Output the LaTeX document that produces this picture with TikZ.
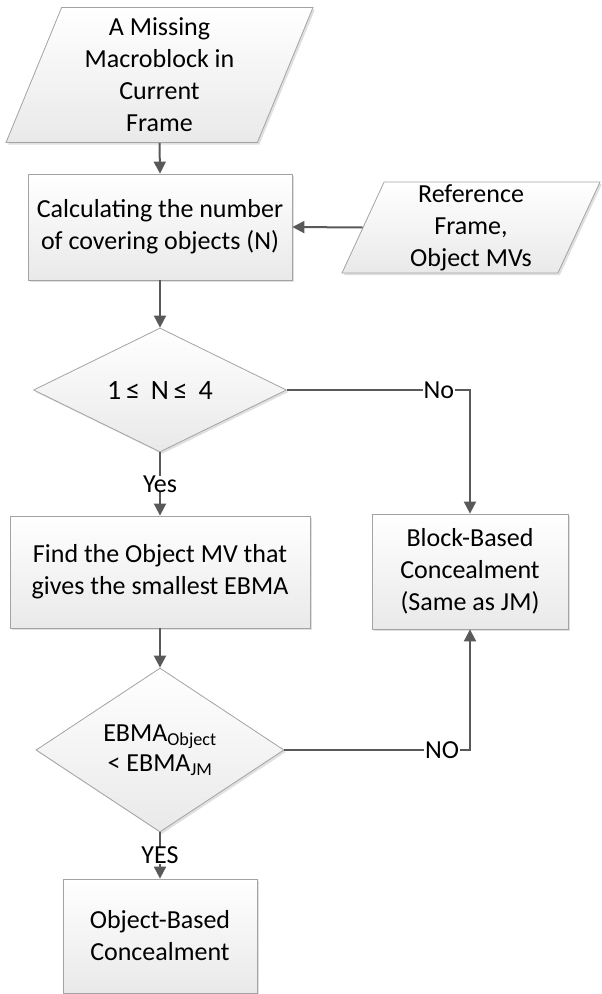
\documentclass[tikz,border=0pt]{standalone}
\usepackage{fontspec}
\setmainfont{Carlito}
\usetikzlibrary{shapes.geometric,arrows.meta,shadows}
\definecolor{edge}{HTML}{A3A3A3}
\definecolor{link}{HTML}{595959}
\definecolor{shadeend}{HTML}{E9E9E9}
\begin{document}
\begin{tikzpicture}[x=1pt,y=-1pt,
  every node/.style={font=\fontsize{26}{32}\selectfont, align=center, inner sep=0pt},
  boxbase/.style={draw=edge, line width=0.8pt, top color=white, bottom color=shadeend,
    drop shadow={shadow xshift=2pt, shadow yshift=-2pt, fill=black, opacity=0.12}},
  procbox/.style={boxbase, rectangle},
  iobox/.style={boxbase, trapezium, trapezium left angle=64, trapezium right angle=116,
    trapezium stretches body},
  decision/.style={boxbase, diamond},
  flow/.style={draw=link, line width=2pt, -{Triangle[length=12pt,width=12pt]}},
  tag/.style={fill=white, inner xsep=1pt, inner ysep=0pt}
]
\useasboundingbox (0,0) rectangle (602,994);

% flowchart blocks
\node[iobox, minimum width=307pt, minimum height=135pt] (mb) at (159.5,75)
  {A Missing\\Macroblock in\\Current\\Frame};
\node[procbox, minimum width=264pt, minimum height=106pt] (calc) at (160,227)
  {Calculating the number\\of covering objects (N)};
\node[iobox, minimum width=258pt, minimum height=91pt] (ref) at (471,227.5)
  {Reference\\Frame,\\Object MVs};
\node[decision, minimum width=253pt, minimum height=124pt] (cnt) at (160,390)
  {\fontsize{28}{32}\selectfont 1\,≤\ \,N\,≤\ \,4};
\node[procbox, minimum width=300pt, minimum height=112pt] (find) at (160,572)
  {Find the Object MV that\\gives the smallest EBMA};
\node[procbox, minimum width=196pt, minimum height=115pt] (blk) at (470,571.5)
  {Block-Based\\Concealment\\(Same as JM)};
\node[decision, minimum width=248pt, minimum height=144pt] (cmp) at (160,750)
  {EBMA\textsubscript{Object}\\[-2pt]< EBMA\textsubscript{JM}};
\node[procbox, minimum width=194pt, minimum height=114pt] (obj) at (160,936)
  {Object-Based\\Concealment};

% connectors
\draw[flow] (mb.center |- mb.south) -- (calc.north);
\draw[flow] (ref.west) -- (calc.east);
\draw[flow] (calc.south) -- (cnt.north);
\draw[flow] (cnt.south) -- node[tag] {Yes} (find.north);
\draw[flow] (cnt.east) -| node[tag, pos=0.415] {No} (blk.north);
\draw[flow] (find.south) -- (cmp.north);
\draw[flow] (cmp.east) -| node[tag, pos=0.425] {NO} (blk.south);
\draw[flow] (cmp.south) -- node[tag] {YES} (obj.north);
\end{tikzpicture}
\end{document}
